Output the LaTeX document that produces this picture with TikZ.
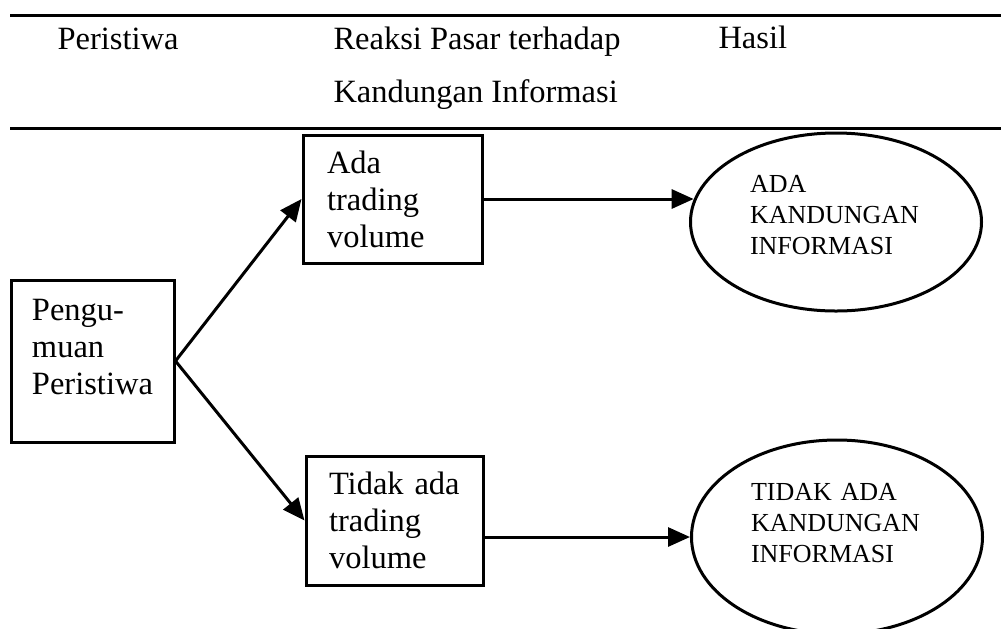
\documentclass[tikz,border=0pt]{standalone}
\usepackage{fontspec}
\setmainfont{Liberation Serif}
\usetikzlibrary{arrows.meta, positioning, calc, shapes.geometric}

\begin{document}
\begin{tikzpicture}[x=0.5pt, y=-0.5pt, line width=1.5pt,
    headtext/.style={anchor=base west, inner sep=0pt, font=\fontsize{16.25}{18.5}\selectfont},
    kotak/.style={rectangle, draw, align=left, font=\fontsize{16.25}{18.5}\selectfont},
    hasil/.style={ellipse, draw, align=left, inner sep=0pt, text width=86pt,
        minimum width=145.5pt, font=\fontsize{13}{15.5}\selectfont},
    panah/.style={-{Triangle[length=11pt, width=9.5pt]}}]
    \useasboundingbox (0,0) rectangle (1001,628);
    \clip (0,0) rectangle (1001,628);

    \draw (10,15.5) -- (1001,15.5);
    \draw (10,128) -- (1001,128);
    \node[headtext] (hperistiwa) at (56,49) {Peristiwa};
    \node[headtext] (hreaksi) at (332,49) {Reaksi Pasar terhadap};
    \node[headtext] (hkandungan) at (332,102) {Kandungan Informasi};
    \node[headtext] (hhasil) at (717,48) {Hasil};

    \node[kotak, text width=60.5pt, minimum width=81.5pt, minimum height=81pt, text depth=51.5pt]
        (peng) at (92.5,361) {Pengu-\\muan\\Peristiwa};
    \node[kotak, text width=65.5pt, minimum width=89.5pt, minimum height=64pt]
        (ada) at (392.5,199) {Ada\\trading\\volume};
    \node[kotak, text width=65.5pt, minimum width=88.5pt, minimum height=64.5pt]
        (tidak) at (394.5,520.5) {Tidak ada\\trading\\volume};

    \node[hasil, minimum height=89pt, text depth=38.5pt]
        (adainfo) at (836,222) {ADA\\KANDUNGAN\\INFORMASI};
    \node[hasil, minimum height=97pt, text depth=45.5pt]
        (tidakinfo) at (837,537) {TIDAK ADA\\KANDUNGAN\\INFORMASI};

    \draw[panah] (peng.east) -- (ada.west);
    \draw[panah] (peng.east) -- (tidak.west);
    \draw[panah] (ada.east) -- (ada.east -| adainfo.171);
    \draw[panah] (tidak.east |- tidakinfo.west) -- (tidakinfo.west);
\end{tikzpicture}
\end{document}
